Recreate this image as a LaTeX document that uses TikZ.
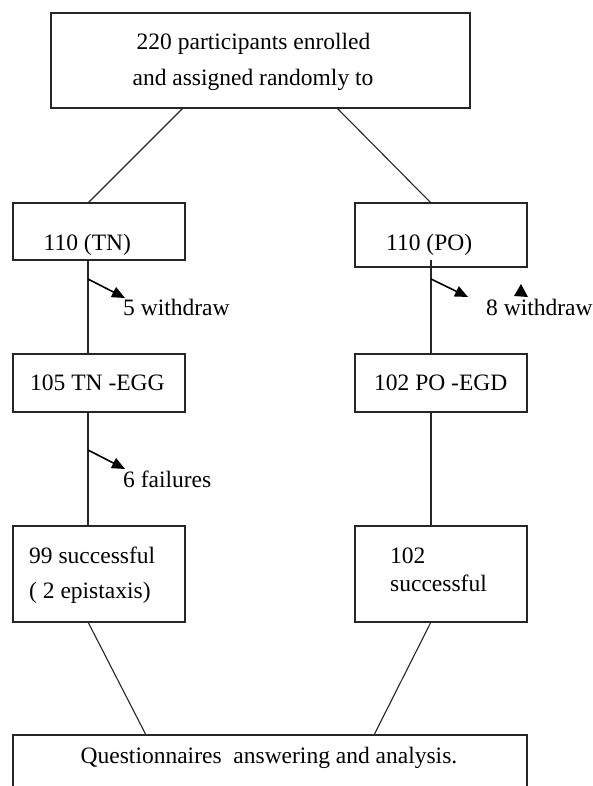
\documentclass[tikz,border=0pt]{standalone}
\usepackage{fontspec}
\setmainfont{Liberation Serif}
\usetikzlibrary{arrows.meta}
\begin{document}
\begin{tikzpicture}[x=1pt,y=-1pt,
  box/.style={draw=black!85, line width=1.1pt, rectangle, anchor=north west, inner sep=0pt, outer sep=0pt},
  txt/.style={anchor=base west, inner sep=0pt, font=\fontsize{23.5}{28}\selectfont, text=black},
  ctxt/.style={txt, anchor=base},
  conn/.style={draw=black!85, line width=1.1pt},
  outarrow/.style={draw=black, line width=1.6pt, -{Triangle[length=13pt,width=11pt]}}]
\useasboundingbox (0,0) rectangle (593,786);
\clip (0,0) rectangle (593,786);
% boxes
\node[box, minimum width=419pt, minimum height=95pt] (top) at (51,13) {};
\node[box, minimum width=172pt, minimum height=57pt] (tn) at (13,203) {};
\node[box, minimum width=172pt, minimum height=64pt] (po) at (355,203) {};
\node[box, minimum width=172pt, minimum height=58pt] (tnegg) at (13,354) {};
\node[box, minimum width=172pt, minimum height=58pt] (poegd) at (355,354) {};
\node[box, minimum width=172pt, minimum height=96pt] (tnok) at (13,526) {};
\node[box, minimum width=172pt, minimum height=96pt] (pook) at (355,526) {};
\node[box, minimum width=514pt, minimum height=90pt] (final) at (13,735) {};
% texts
\node[ctxt] (t1) at (253.5,50) {220 participants enrolled};
\node[ctxt] (t2) at (253,86) {and assigned randomly to};
\node[txt] (ttn) at (43.5,251) {110 (TN)};
\node[txt] (tpo) at (386,251) {110 (PO)};
\node[txt] (w5) at (123,315) {5 withdraw};
\node[txt] (w8) at (486,315) {8 withdraw};
\node[txt] (ttnegg) at (30,390) {105 TN -EGG};
\node[txt] (tpoegd) at (374,390) {102 PO -EGD};
\node[txt] (f6) at (123,487) {6 failures};
\node[txt] (ok1a) at (29,563) {99 successful};
\node[txt] (ok1b) at (29,598) {( 2 epistaxis)};
\node[txt] (ok2a) at (390,563) {102};
\node[txt] (ok2b) at (390,591) {successful};
\node[txt] (tq) at (80.5,763) {Questionnaires\ \ answering and analysis.};
% connectors
\draw[conn] ([xshift=132pt]top.south west) -- ([xshift=75pt]tn.north west);
\draw[conn] ([xshift=286pt]top.south west) -- ([xshift=76pt]po.north west);
\draw[conn] ([xshift=75pt]tn.south west) -- ([xshift=75pt]tnegg.north west);
\draw[conn] ([xshift=76pt,yshift=7pt]po.south west) -- ([xshift=76pt]poegd.north west);
\draw[conn] ([xshift=75pt]tnegg.south west) -- ([xshift=75pt]tnok.north west);
\draw[conn] ([xshift=76pt]poegd.south west) -- ([xshift=76pt]pook.north west);
\draw[conn] ([xshift=75pt]tnok.south west) -- ([xshift=133pt]final.north west);
\draw[conn] ([xshift=76pt]pook.south west) -- ([xshift=361pt]final.north west);
% side arrows
\coordinate (a1s) at (88,279);
\coordinate (a1e) at (125,298);
\coordinate (a2s) at (431,279);
\coordinate (a2e) at (468,297);
\coordinate (a3s) at (88,450);
\coordinate (a3e) at (125,469);
\draw[outarrow] (a1s) -- (a1e);
\draw[outarrow] (a2s) -- (a2e);
\draw[outarrow] (a3s) -- (a3e);
% stray arrowhead
\fill[black] (521,284) -- (528,297) -- (514,296) -- cycle;
\end{tikzpicture}
\end{document}
